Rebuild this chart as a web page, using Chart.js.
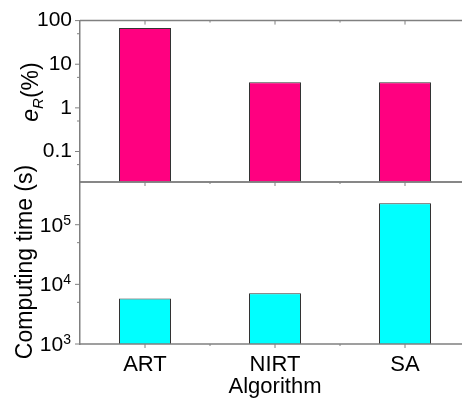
<!DOCTYPE html>
<html>
<head>
<meta charset="utf-8">
<script src="https://cdn.jsdelivr.net/npm/chart.js@4.4.1/dist/chart.umd.min.js"></script>
<style>
html, body { margin: 0; padding: 0; background: #fff; overflow: hidden; width: 462px; height: 399px; }
canvas { position: absolute; left: 0; top: 0; }
</style>
</head>
<body>
<canvas id="topChart" width="475" height="399"></canvas>
<canvas id="bottomChart" width="475" height="399"></canvas>
<script>
// data
const categories = ['ART', 'NIRT', 'SA'];
const errorValues = [68, 3.85, 3.85];        // e_R (%)
const timeValues = [5800, 7100, 230000];     // computing time (s)

const errorTicks = [0.1, 1, 10, 100];
const errorTickLabels = ['0.1', '1', '10', '100'];
const errorMinorTicks = [0.05, 0.5, 5, 50];
const timeTicks = [1e3, 1e4, 1e5];
const timeTickExponents = ['3', '4', '5'];
const timeMinorTicks = [5e3, 5e4];

const FONT = "'Liberation Sans', Arial, sans-serif";
const AXIS = '#808080';
const PINK = '#ff0080';
const CYAN = '#00ffff';

// draws the panel frame lines and the small tick marks
function framePlugin(opts) {
  return {
    id: 'frame',
    afterDraw(chart) {
      const ctx = chart.ctx;
      const a = chart.chartArea;
      const xs = chart.scales.x;
      const ys = chart.scales.y;
      ctx.save();
      ctx.strokeStyle = AXIS;
      ctx.lineWidth = 1.5;
      ctx.beginPath();
      ctx.moveTo(a.left, a.top); ctx.lineTo(a.right + 10, a.top);
      ctx.moveTo(a.left, a.bottom); ctx.lineTo(a.right + 10, a.bottom);
      ctx.stroke();

      // x ticks at categories and halfway between them
      ctx.lineWidth = 1;
      const xpos = [];
      for (let i = 0; i < categories.length; i++) {
        xpos.push(xs.getPixelForValue(i));
        if (i < categories.length - 1) xpos.push((xs.getPixelForValue(i) + xs.getPixelForValue(i + 1)) / 2);
      }
      ctx.beginPath();
      xpos.forEach(function(x, k) {
        const len = k % 2 === 0 ? 4 : 2;
        if (opts.topTicks) { ctx.moveTo(x, a.top); ctx.lineTo(x, a.top + len); }
        ctx.moveTo(x, a.bottom); ctx.lineTo(x, a.bottom + len);
      });
      // y ticks
      opts.major.forEach(function(v) {
        const y = ys.getPixelForValue(v);
        ctx.moveTo(a.left - 5, y); ctx.lineTo(a.left, y);
      });
      opts.minor.forEach(function(v) {
        const y = ys.getPixelForValue(v);
        ctx.moveTo(a.left - 3, y); ctx.lineTo(a.left, y);
      });
      ctx.stroke();
      ctx.restore();
      if (opts.text) opts.text(chart);
    }
  };
}

function fixWidth(scale) { scale.width = 80; }

const topChart = new Chart(document.getElementById('topChart'), {
  type: 'bar',
  data: {
    labels: categories,
    datasets: [{
      data: errorValues,
      backgroundColor: PINK,
      borderColor: '#333',
      borderWidth: 1,
      barPercentage: 0.4,
      categoryPercentage: 1.0
    }]
  },
  options: {
    responsive: false,
    animation: false,
    devicePixelRatio: 1,
    layout: { padding: { top: 20, right: 5, bottom: 217, left: 0 } },
    plugins: { legend: { display: false }, tooltip: { enabled: false } },
    scales: {
      x: { display: false, offset: true },
      y: {
        type: 'logarithmic',
        min: 0.02,
        max: 100,
        afterFit: fixWidth,
        afterBuildTicks: function(scale) { scale.ticks = errorTicks.map(function(v) { return { value: v }; }); },
        grid: { display: false, drawTicks: false },
        border: { display: true, color: AXIS, width: 1.5 },
        ticks: {
          autoSkip: false,
          padding: 8,
          color: '#000',
          font: { family: FONT, size: 21 },
          callback: function(v) { const i = errorTicks.indexOf(v); return i >= 0 ? errorTickLabels[i] : ''; }
        }
      }
    }
  },
  plugins: [framePlugin({
    topTicks: true,
    major: errorTicks,
    minor: errorMinorTicks,
    text: function(chart) {
      const ctx = chart.ctx;
      ctx.save();
      ctx.fillStyle = '#000';
      ctx.translate(38, 92);
      ctx.rotate(-Math.PI / 2);
      ctx.textBaseline = 'alphabetic';
      ctx.font = 'italic 23px ' + FONT;
      const we = ctx.measureText('e').width;
      ctx.font = 'italic 15px ' + FONT;
      const wr = ctx.measureText('R').width;
      ctx.font = '23px ' + FONT;
      const wp = ctx.measureText('(%)').width;
      let x = -(we + wr + wp) / 2;
      ctx.font = 'italic 23px ' + FONT;
      ctx.fillText('e', x, 0); x += we;
      ctx.font = 'italic 15px ' + FONT;
      ctx.fillText('R', x, 5); x += wr;
      ctx.font = '23px ' + FONT;
      ctx.fillText('(%)', x, 0);
      ctx.restore();
    }
  })]
});

const bottomChart = new Chart(document.getElementById('bottomChart'), {
  type: 'bar',
  data: {
    labels: categories,
    datasets: [{
      data: timeValues,
      backgroundColor: CYAN,
      borderColor: '#333',
      borderWidth: 1,
      barPercentage: 0.4,
      categoryPercentage: 1.0
    }]
  },
  options: {
    responsive: false,
    animation: false,
    devicePixelRatio: 1,
    layout: { padding: { top: 182, right: 5, bottom: 0, left: 0 } },
    plugins: { legend: { display: false }, tooltip: { enabled: false } },
    scales: {
      x: {
        offset: true,
        afterFit: function(scale) { scale.height = 55; },
        grid: { display: false, drawTicks: false },
        border: { display: false },
        ticks: { padding: 8, color: '#000', font: { family: FONT, size: 22 } }
      },
      y: {
        type: 'logarithmic',
        min: 1000,
        max: 520000,
        afterFit: fixWidth,
        afterBuildTicks: function(scale) { scale.ticks = timeTicks.map(function(v) { return { value: v }; }); },
        grid: { display: false, drawTicks: false },
        border: { display: true, color: AXIS, width: 1.5 },
        ticks: { display: false }
      }
    }
  },
  plugins: [framePlugin({
    topTicks: false,
    major: timeTicks,
    minor: timeMinorTicks,
    text: function(chart) {
      const ctx = chart.ctx;
      const a = chart.chartArea;
      const ys = chart.scales.y;
      const xs = chart.scales.x;
      ctx.save();
      ctx.fillStyle = '#000';
      // powers of ten with superscript exponents
      timeTicks.forEach(function(v, i) {
        const y = ys.getPixelForValue(v);
        ctx.textAlign = 'right';
        ctx.textBaseline = 'alphabetic';
        ctx.font = '14px ' + FONT;
        const we = ctx.measureText(timeTickExponents[i]).width;
        ctx.fillText(timeTickExponents[i], 71, y);
        ctx.font = '21px ' + FONT;
        ctx.fillText('10', 71 - we, y + 7);
      });
      // x axis title
      ctx.textAlign = 'center';
      ctx.font = '22px ' + FONT;
      ctx.fillText('Algorithm', xs.getPixelForValue(1), 393);
      // y axis title
      ctx.translate(32, (a.top + a.bottom) / 2 - 1);
      ctx.rotate(-Math.PI / 2);
      ctx.font = '23px ' + FONT;
      ctx.fillText('Computing time (s)', 0, 0);
      ctx.restore();
    }
  })]
});
</script>
</body>
</html>
